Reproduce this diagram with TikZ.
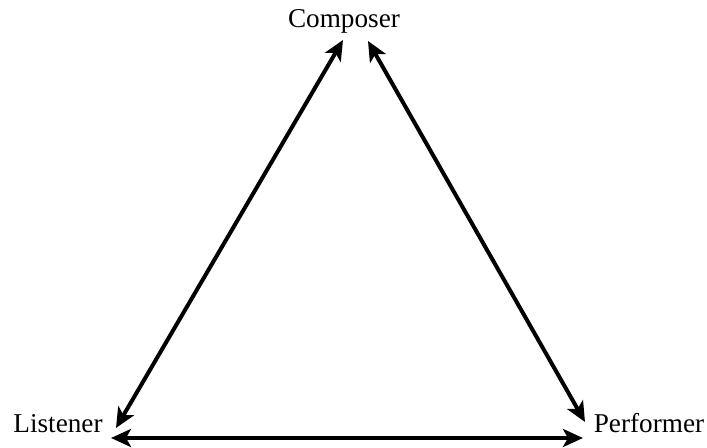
\documentclass[tikz,border=0pt]{standalone}
\usepackage{fontspec}
\setmainfont{Liberation Serif}
\usetikzlibrary{arrows.meta}

\begin{document}
\begin{tikzpicture}[x=0.5pt,y=-0.5pt,font=\fontsize{13.6}{16}\selectfont,
    >={Stealth[length=10pt,width=9pt,inset=2.5pt]},
    link/.style={<->,line width=2pt}]
  \useasboundingbox (0,0) rectangle (707,448);

  \node[anchor=base,inner sep=0pt] (composer) at (344,28) {Composer};
  \node[anchor=base,inner sep=0pt] (listener) at (58,433) {Listener};
  \node[anchor=base,inner sep=0pt] (performer) at (649,433) {Performer};

  % arrow ends next to the names
  \coordinate (cl) at (343,40);
  \coordinate (cp) at (368,41);
  \coordinate (lc) at (116,428);
  \coordinate (lp) at (111,438);
  \coordinate (pc) at (585,422);
  \coordinate (pl) at (583,438);

  \draw[link] (cl) -- (lc);
  \draw[link] (cp) -- (pc);
  \draw[link] (lp) -- (pl);
\end{tikzpicture}
\end{document}
